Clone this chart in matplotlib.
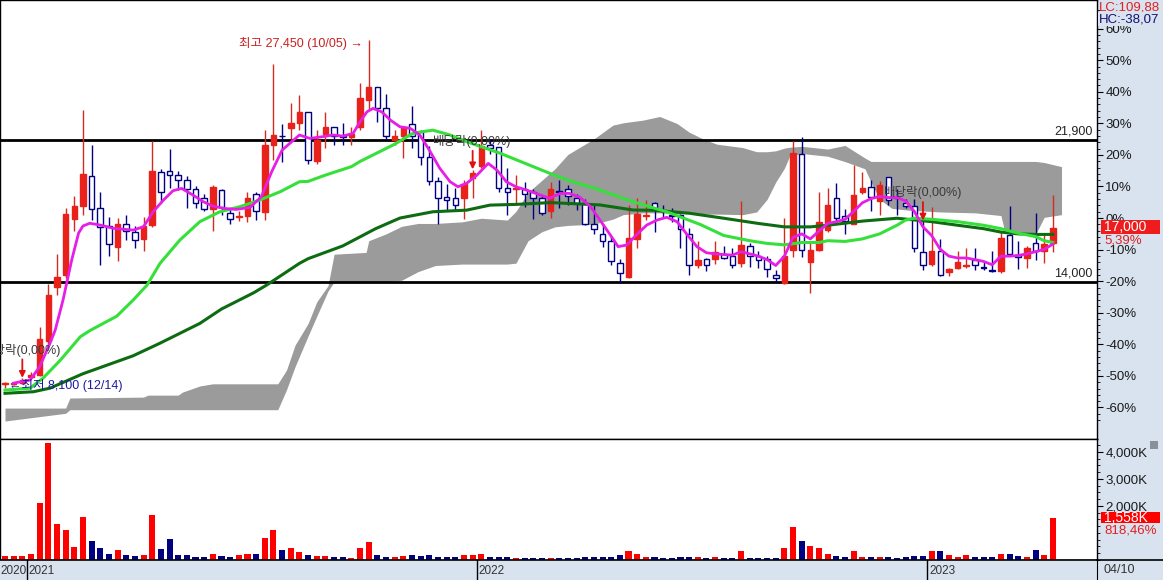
"""Weekly candlestick chart with moving averages, cloud band and volume."""

import numpy as np
import pandas as pd
import matplotlib
matplotlib.use("Agg")
import matplotlib.pyplot as plt
import matplotlib.transforms as mtransforms
from matplotlib.lines import Line2D
from matplotlib.patches import Rectangle
from matplotlib.ticker import MultipleLocator

plt.rcParams["font.family"] = ["Liberation Sans", "Noto Sans CJK KR", "DejaVu Sans"]
NARROW = ["Liberation Sans", "DejaVu Sans"]

# ---- weekly candles, first week 2020-12-14 ----
first_week = "2020-12-14"

opens = [
    8330, 8330, 8400, 8700, 8850, 10700, 13700, 14400, 17500, 18250,
    19900, 18100, 17100, 15950, 17250, 16800, 16400, 17200, 20100, 20200,
    19950, 19700, 19200, 18700, 18050, 19100, 17850, 17600, 17700, 18900,
    17900, 21650, 22150, 22550, 22850, 23450, 20750, 22250, 22600, 22100,
    22050, 22600, 24150, 24850, 23700, 21900, 22100, 22800, 22350, 20950,
    19600, 18750, 18700, 18700, 19800, 20450, 21650, 21500, 19250, 19150,
    19200, 19000, 18700, 17950, 19050, 19150, 18700, 18400, 17250, 16650,
    16300, 15050, 14300, 16400, 17700, 18400, 18000, 17750, 17750, 16650,
    14950, 15300, 15300, 15550, 15450, 15050, 16000, 15450, 15300, 14400,
    13950, 15800, 21100, 15100, 15800, 16900, 18650, 17700, 17250, 19000,
    19300, 18500, 19850, 18700, 18400, 18250, 15650, 15000, 15750, 14550,
    14800, 14900, 15250, 14800, 14650, 14600, 16600, 15500, 15350, 16150,
    15750, 16150,
]
highs = [
    8450, 8450, 8650, 9000, 11500, 13900, 15550, 18100, 18800, 23550,
    21650, 19000, 17600, 17550, 17750, 17100, 17600, 21850, 20300, 21400,
    20200, 19900, 19350, 18900, 19400, 19200, 18100, 17950, 19000, 19000,
    22450, 26150, 22800, 23950, 24400, 23450, 22450, 23450, 22650, 22850,
    22600, 25100, 27450, 24850, 24450, 22450, 22700, 23800, 22450, 21550,
    19850, 19450, 19250, 19700, 20250, 22450, 21950, 21500, 20350, 19950,
    19550, 19200, 18800, 19550, 19650, 19400, 18900, 18600, 18300, 17250,
    16550, 15300, 18300, 18650, 18550, 18450, 18300, 18100, 17800, 17000,
    16300, 15350, 16300, 16000, 15900, 18500, 16200, 15700, 15450, 14650,
    17550, 21850, 22050, 16300, 19000, 19250, 19500, 18050, 20500, 20150,
    19650, 19600, 19850, 19200, 18600, 18600, 17400, 18200, 16400, 14800,
    15700, 15900, 15900, 15150, 15700, 16800, 18250, 16300, 16000, 17850,
    16700, 18850,
]
lows = [
    8100, 8250, 8350, 8650, 8750, 10500, 13300, 14200, 16850, 17750,
    17450, 14950, 15450, 15150, 16350, 15900, 15700, 17050, 18400, 19250,
    19100, 18100, 18100, 17950, 16850, 17750, 17250, 17400, 17350, 17450,
    17450, 20800, 20700, 21950, 22450, 20550, 20550, 21450, 21650, 21650,
    21650, 22450, 23550, 22900, 21950, 21600, 20900, 21450, 20500, 19400,
    17250, 17950, 18000, 17500, 18700, 20350, 21150, 19000, 17750, 18400,
    18200, 17500, 17750, 17550, 18100, 18300, 18000, 17150, 16700, 15950,
    14950, 13950, 14250, 15900, 17450, 16800, 17550, 17350, 15900, 14400,
    14800, 14600, 15000, 15300, 14800, 14850, 14850, 14800, 14300, 14000,
    13900, 15400, 15400, 13400, 15750, 16800, 17250, 16700, 17250, 18900,
    17950, 17750, 18300, 17750, 18100, 15650, 14650, 14900, 14350, 14350,
    14750, 14800, 14650, 14650, 14550, 14500, 15500, 14750, 14800, 15250,
    15050, 15650,
]
closes = [
    8360, 8360, 8550, 8850, 10850, 13300, 14300, 17800, 18250, 20000,
    18050, 17050, 16100, 17250, 16850, 16350, 17100, 20200, 19000, 19950,
    19700, 19200, 18400, 18050, 19300, 18200, 17500, 17700, 18700, 17950,
    21650, 22200, 22100, 22850, 23450, 20800, 21900, 22650, 22150, 22050,
    22250, 24250, 24850, 23700, 22150, 22100, 22600, 22150, 20950, 19600,
    18700, 18550, 18300, 19450, 20050, 21550, 21450, 19250, 19000, 19250,
    18900, 18700, 17850, 19200, 19000, 18800, 18400, 17250, 16950, 16300,
    15150, 14500, 16450, 17800, 17750, 18050, 17950, 17700, 16950, 14950,
    15250, 14950, 15650, 15350, 14950, 16050, 15450, 15250, 14750, 14200,
    15450, 21200, 15800, 15800, 17350, 18300, 17550, 17400, 18850, 19250,
    18750, 19400, 18550, 18650, 18250, 15900, 14950, 15750, 14400, 14750,
    15100, 14950, 14950, 14780, 14600, 16450, 15550, 15400, 15900, 15750,
    16130, 17000,
]
# volume in thousands of shares
volumes_k = [
    141, 141, 141, 204, 2119, 4319, 1330, 1122, 485, 1607,
    715, 433, 230, 360, 178, 141, 178, 1674, 396, 778,
    178, 178, 115, 115, 230, 141, 115, 178, 204, 204,
    815, 1100, 360, 433, 307, 178, 141, 160, 115, 115,
    90, 460, 652, 167, 115, 110, 141, 167, 141, 167,
    115, 100, 100, 167, 167, 204, 100, 115, 100, 90,
    90, 90, 90, 90, 90, 90, 90, 110, 110, 110,
    120, 167, 333, 230, 120, 110, 90, 90, 110, 110,
    110, 90, 110, 60, 60, 333, 90, 90, 90, 90,
    433, 1226, 715, 522, 460, 230, 141, 115, 333, 115,
    115, 115, 115, 90, 115, 141, 141, 333, 333, 167,
    115, 167, 115, 110, 110, 230, 204, 141, 115, 370,
    170, 1558,
]

# moving averages (week position, price)
ma5_x = [1, 2.9, 4, 5.2, 5.8, 6.7, 7.7, 8.5, 9, 9.8,
         11, 12.5, 14.8, 16, 17.1, 18.3, 19.4, 20.4, 21.7, 22.9,
         24, 25.2, 26.7, 28.3, 29.6, 30.8, 32, 32.9, 34, 35.2,
         36.7, 37.9, 39, 40.2, 41, 41.8, 42.5, 43.5, 44.5, 45.6,
         46.8, 47.9, 49, 50.2, 51.4, 52.3, 53.3, 54.5, 55.8, 56.8,
         57.9, 59, 60.2, 61.3, 62.9, 64.1, 65.2, 66.4, 67.6, 68.7,
         69.9, 70.8, 71.8, 72.9, 74.1, 75.3, 76.4, 77.6, 78.8, 79.9] + list(range(81, 122))
ma5_y = [8380, 8550, 9290, 10600, 11330, 13000, 15220, 16730, 17120, 17270,
         17170, 16990, 16890, 17080, 17910, 18560, 19080, 19210, 18840, 18470,
         18230, 18100, 18040, 18150, 18750, 20140, 21340, 21720, 22180, 21990,
         22090, 22180, 22120, 22270, 22920, 23470, 23660, 23470, 23010, 22640,
         22550, 22180, 21340, 20330, 19580, 19300, 19490, 19950, 20600, 20230,
         19580, 19300, 19120, 18930, 18660, 18930, 18930, 18710, 18200, 17450,
         16620, 15970, 16060, 16620, 17170, 17450, 17600, 17360, 16620, 15970,
         15630, 15570, 15530, 15500, 15690, 15570, 15440, 15250, 14920, 15440,
         16490, 16680, 16400, 16840, 17260, 17360, 17490, 17930, 18410, 18640,
         18760, 18700, 18700, 18510, 17930, 17070, 16590, 15820, 15440, 15340,
         15340, 15250, 15150, 14960, 15440, 15440, 15480, 15570, 15690, 15820,
         16110]

ma20_x = [0, 2.9, 4.4, 6.4, 8.7, 9.8, 12.9, 14.8, 16.4, 17.9,
          20.2, 22.5, 24.8, 27.1, 29.4, 31.8, 34, 35, 37, 40,
          41, 43, 45, 47, 48, 49.4, 51.4, 53.3, 57.2, 61,
          62.9, 64.9, 68.7, 72.5, 76.4, 80.3, 83, 86, 88, 90,
          92, 94, 95, 97, 99, 101, 103, 104, 105, 107,
          110, 113, 115, 117, 119, 120, 121]
ma20_y = [7990, 8100, 8660, 9660, 10960, 11300, 12100, 13000, 13830, 15040,
          16340, 17360, 17910, 18190, 18560, 19030, 19580, 19600, 19950, 20420,
          20710, 21190, 21670, 22250, 22350, 22450, 22180, 21810, 21160, 20420,
          20050, 19680, 19120, 18470, 17910, 17200, 16590, 16300, 16150, 16070,
          16200, 16200, 16300, 16260, 16400, 16680, 17160, 17450, 17550, 17490,
          17360, 17160, 16970, 16720, 16530, 16300, 16200]

ma60_x = [0, 3.3, 5.2, 9, 14.8, 17.9, 22.5, 25, 28.7, 30.2,
          34, 35, 39, 42.8, 45.6, 49.4, 53.3, 56, 59, 63,
          68.7, 72.5, 75, 79, 83, 87, 90, 93, 95, 99,
          103, 107, 110, 113, 115, 117, 119, 121]
ma60_y = [7810, 7900, 8100, 8900, 9900, 10600, 11700, 12500, 13400, 13830,
          15040, 15300, 16010, 16970, 17560, 17910, 18000, 18280, 18320, 18420,
          18290, 18010, 17990, 17830, 17550, 17260, 17070, 17070, 17160, 17390,
          17550, 17360, 17160, 16970, 16780, 16680, 16650, 16650]

# cloud band edges (week position, upper, lower)
cloud_x = [0, 7, 7.5, 16, 16.5, 20, 20.5, 22.5, 24, 31.5,
           32.5, 33.5, 35, 36, 37.3, 38, 41.7, 42, 44, 45.8,
           47.7, 49.7, 52.8, 55, 58, 59, 60.4, 62, 63.5, 65,
           68, 70.2, 71.4, 73.7, 75.6, 77.6, 79, 80.6, 82.2, 85.2,
           86.8, 88, 89, 90, 90.6, 92, 95, 97, 99.3, 100,
           101, 102.4, 104.3, 108, 112, 115, 115.5, 119, 120, 122]
cloud_top = [6990, 6990, 7550, 7600, 7710, 7710, 7880, 8220, 8340, 8340,
             9100, 10500, 11700, 12900, 13800, 15550, 15650, 16300, 16680, 17100,
             17260, 17260, 17350, 17550, 17450, 17930, 18990, 19660, 20300, 21100,
             21960, 22730, 22860, 23010, 23210, 22820, 22340, 21960, 21670, 21480,
             21250, 21250, 21300, 21450, 21500, 21550, 21400, 21600, 20900, 20710,
             20710, 20710, 20710, 20710, 20710, 20710, 20710, 20710, 20650, 20420]
cloud_bot = [6270, 6700, 6900, 6900, 6900, 6900, 6900, 6900, 6900, 6900,
             8000, 9300, 11000, 12100, 13500, 14000, 14000, 14000, 14000, 14100,
             14580, 14920, 15000, 15000, 15000, 15050, 16300, 16800, 17070, 17150,
             17220, 17500, 17750, 17850, 17850, 17800, 17800, 17780, 17780, 17750,
             17900, 18600, 19560, 20330, 21000, 21150, 21000, 20700, 20300, 19560,
             18600, 18100, 18000, 17900, 17850, 17700, 16700, 16650, 17600, 17750]

level_lines = [21900, 14000]
exdiv_weeks = [2, 54, 106]
exdiv_label = "배당락(0,00%)"
high_date = "10/05"
low_date = "12/14"
vol_change_label = "818,46%"
pct_base = 17560
pct_major = np.arange(-60, 61, 10)
pct_minor = np.arange(-64, 67, 2)
vol_ticks_k = [2000, 3000, 4000]

# ---- layout (pixels) ----
W, H = 1163, 580
PANEL_X = 1097
MAIN_Y = 439
VOL_Y = 560
BAR_PX = 8.66
FIRST_PX = 5

RED = "#e8221a"
WICK_RED = "#d42a20"
NAVY = "#000080"
PANEL = "#d8e3ef"
CLOUD = "#9b9b9b"


def comma(v):
    return f"{v:.2f}".replace(".", ",")


o = np.array(opens, float)
h = np.array(highs, float)
l = np.array(lows, float)
c = np.array(closes, float)
vol = np.array(volumes_k, float)
x = np.arange(len(c))
dates = pd.date_range(first_week, periods=len(c), freq="7D")
up = c >= o

fig = plt.figure(figsize=(W / 100, H / 100), dpi=100, facecolor=PANEL)
ax = fig.add_axes([0, (H - MAIN_Y) / H, PANEL_X / W, MAIN_Y / H])
axv = fig.add_axes([0, (H - VOL_Y) / H, PANEL_X / W, (VOL_Y - MAIN_Y) / H], sharex=ax)
axd = fig.add_axes([0, 0, PANEL_X / W, (H - VOL_Y) / H], sharex=ax)

ax.set_xlim(-FIRST_PX / BAR_PX, (PANEL_X - FIRST_PX) / BAR_PX)
ax.set_ylim(5270, 29690)
axv.set_ylim(0, 4480)

# cloud and level lines
ax.fill_between(cloud_x, cloud_bot, cloud_top, color=CLOUD, lw=0, zorder=1)
for lv in level_lines:
    ax.axhline(lv, color="black", lw=2, zorder=2)
    ax.annotate(f"{lv:,}", xy=(1, lv), xycoords=ax.get_yaxis_transform(),
                xytext=(-3, 1.5), textcoords="offset points", ha="right",
                va="bottom", fontsize=9, family=NARROW, color="#222222")

# candles
wick_colors = np.where(up, WICK_RED, NAVY)
ax.vlines(x, l, h, colors=wick_colors, lw=1, zorder=4)
body_lo = np.minimum(o, c)
body_h = np.maximum(np.abs(c - o), 35)
ax.bar(x, body_h, bottom=body_lo, width=0.64, color=np.where(up, RED, "white"),
       edgecolor=np.where(up, RED, NAVY), linewidth=1, zorder=5)

# moving averages
ax.plot(ma60_x, ma60_y, color="#0d6b12", lw=2.2, zorder=6)
ax.plot(ma20_x, ma20_y, color="#36e03a", lw=2.2, zorder=6)
ax.plot(ma5_x, ma5_y, color="#e61ee6", lw=2.0, zorder=7)

# high / low notes
ih = int(np.argmax(h))
ax.annotate(f"최고 {int(h[ih]):,} ({high_date}) →", xy=(ih, h[ih]),
            xytext=(-4, -2), textcoords="offset points", ha="right",
            va="center", fontsize=9, color="#cc1f1f", zorder=8)
il = int(np.argmin(l))
ax.annotate(f"←최저 {int(l[il]):,} ({low_date})", xy=(il, l[il]),
            xytext=(3, 2), textcoords="offset points", ha="left",
            va="center", fontsize=9, color="#1c1ca0", zorder=8)

# ex-dividend marks
for wk in exdiv_weeks:
    ax.annotate("", xy=(wk, h[wk] + 20), xytext=(wk, h[wk] + 1050),
                arrowprops=dict(arrowstyle="-|>", color="#e01010", lw=1.3,
                                mutation_scale=9, shrinkA=0, shrinkB=0), zorder=8)
    ax.text(wk, h[wk] + 1560, exdiv_label, ha="center", va="center",
            fontsize=9, color="#3a3a3a", zorder=8, clip_on=True)

# price scale in percent on the right
ax.yaxis.tick_right()
ax.set_yticks(pct_base * (1 + pct_major / 100), [f"{p}%" for p in pct_major])
ax.set_yticks(pct_base * (1 + pct_minor / 100), minor=True)
ax.tick_params(axis="y", which="major", direction="out", length=4, pad=2,
               labelsize=9.5, labelcolor="#1a1a1a")
ax.tick_params(axis="y", which="minor", direction="out", length=2)
ax.tick_params(axis="x", which="both", bottom=False, labelbottom=False)
for lab in ax.get_yticklabels():
    lab.set_family(NARROW)

# volume bars
axv.bar(x, vol, width=0.7, color=np.where(up, "#ff0000", NAVY), zorder=3)
axv.yaxis.tick_right()
axv.set_yticks(vol_ticks_k, [f"{v:,}K" for v in vol_ticks_k])
axv.yaxis.set_minor_locator(MultipleLocator(250))
axv.tick_params(axis="y", which="major", direction="out", length=4, pad=2,
                labelsize=9.5, labelcolor="#1a1a1a")
axv.tick_params(axis="y", which="minor", direction="out", length=2)
axv.tick_params(axis="x", which="both", bottom=False, labelbottom=False)
for lab in axv.get_yticklabels():
    lab.set_family(NARROW)

for a in (ax, axv):
    for sp in a.spines.values():
        sp.set_color("black")
        sp.set_linewidth(1)

# date strip
axd.set_facecolor(PANEL)
axd.set_ylim(0, 1)
axd.set_yticks([])
axd.tick_params(axis="x", which="both", bottom=False, labelbottom=False)
for side in ("left", "bottom"):
    axd.spines[side].set_visible(False)
axd.spines["top"].set_linewidth(1.2)
axd.text(ax.get_xlim()[0] + 0.05, 0.45, str(dates[0].year), ha="left", va="center",
         fontsize=8.5, family=NARROW, color="#333333")
for k in range(1, len(dates)):
    if dates[k].year != dates[k - 1].year:
        axd.axvline(k - 0.5, color="black", lw=1)
        axd.text(k - 0.3, 0.45, str(dates[k].year), ha="left", va="center",
                 fontsize=8.5, family=NARROW, color="#333333")
fig.add_artist(Line2D([PANEL_X / W, 1], [(H - VOL_Y) / H] * 2,
                      transform=fig.transFigure, color="black", lw=1.2))
fig.text(1119 / W, 10 / H, dates[-1].strftime("%m/%d"), ha="center", va="center",
         fontsize=9, family=NARROW, color="#333333")

# scale panel labels
lc = (c[-1] / l.min() - 1) * 100
hc = (c[-1] / h.max() - 1) * 100
fig.text(1099 / W, 1 - 8 / H, f"LC:{comma(lc)}", ha="left", va="center",
         fontsize=9.5, family=NARROW, color="#e02020")
fig.text(1099 / W, 1 - 19 / H, f"HC:{comma(hc)}", ha="left", va="center",
         fontsize=9.5, family=NARROW, color="#101070",
         bbox=dict(boxstyle="square,pad=0.05", fc=PANEL, ec="none"))

price_tr = mtransforms.blended_transform_factory(fig.transFigure, ax.transData)
fig.add_artist(Rectangle((1101 / W, c[-1] - 300), 59 / W, 760,
                         transform=price_tr, fc="#ee1c1c", ec="none"))
fig.text(1104 / W, c[-1] + 80, f"{int(c[-1]):,}", transform=price_tr, ha="left",
         va="center", fontsize=10, family=NARROW, color="white")
chg = (c[-1] / c[-2] - 1) * 100
fig.text(1104 / W, c[-1] - 680, f"{comma(chg)}%", transform=price_tr, ha="left",
         va="center", fontsize=9.5, family=NARROW, color="#e02020")

vol_tr = mtransforms.blended_transform_factory(fig.transFigure, axv.transData)
fig.add_artist(Rectangle((1101 / W, vol[-1] - 200), 59 / W, 420,
                         transform=vol_tr, fc="#ff0000", ec="none"))
fig.text(1104 / W, vol[-1] + 10, f"{int(vol[-1]):,}K", transform=vol_tr, ha="left",
         va="center", fontsize=10, family=NARROW, color="white")
fig.text(1104 / W, vol[-1] - 470, vol_change_label, transform=vol_tr, ha="left",
         va="center", fontsize=9.5, family=NARROW, color="#e02020")
fig.add_artist(Rectangle((1150 / W, 1 - 449 / H), 8 / W, 8 / H,
                         transform=fig.transFigure, fc="#8a9099", ec="none"))

fig.savefig("out.png", dpi=100, facecolor=PANEL)
